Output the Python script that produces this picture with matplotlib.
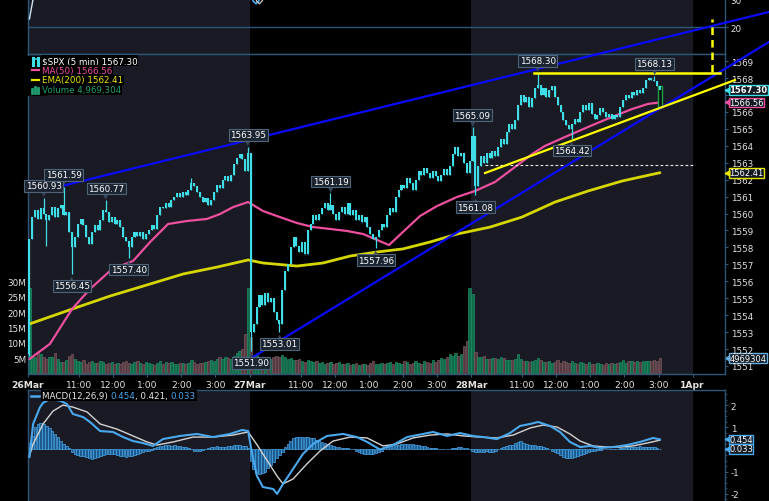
import matplotlib
matplotlib.use('Agg')
import matplotlib.pyplot as plt
import matplotlib.transforms as mtransforms
from matplotlib.lines import Line2D
import numpy as np

plt.rcParams['font.family'] = ['DejaVu Sans']

# ------------------------------------------------------------------ data
prev_close = 1551.69

close_26mar = [1558.5, 1559.8, 1560.2, 1559.7, 1560.3, 1560.0, 1559.6, 1559.9, 1560.4, 1559.8,
               1560.3, 1560.5, 1559.9, 1560.1, 1558.9, 1558.0, 1558.6, 1559.4, 1559.7, 1559.3,
               1558.6, 1558.2, 1558.9, 1559.3, 1559.0, 1559.6, 1560.2, 1560.1, 1559.5, 1559.8,
               1559.4, 1559.6, 1559.2, 1558.6, 1558.4, 1558.0, 1558.6, 1558.9, 1558.7, 1558.9,
               1558.5, 1558.8, 1559.0, 1559.3, 1559.1, 1559.9, 1560.4, 1560.3, 1560.6, 1560.4,
               1560.8, 1561.0, 1561.2, 1561.0, 1561.3, 1561.1, 1561.4, 1561.8, 1561.6, 1561.3,
               1561.0, 1560.7, 1560.9, 1560.5, 1560.8, 1561.3, 1561.7, 1561.5, 1562.0, 1562.2,
               1561.9, 1562.3, 1562.9, 1563.3, 1563.5, 1563.2, 1562.5, 1563.6]
close_27mar = [1553.0, 1553.5, 1554.5, 1555.2, 1554.6, 1555.3, 1554.8, 1555.0, 1554.2, 1553.7,
               1553.5, 1555.5, 1556.6, 1557.0, 1558.0, 1558.6, 1558.1, 1557.7, 1558.3, 1557.6,
               1559.0, 1559.4, 1559.9, 1559.6, 1560.0, 1560.3, 1560.6, 1560.2, 1560.5, 1560.0,
               1559.6, 1560.1, 1560.4, 1560.0, 1560.6, 1559.9, 1560.2, 1559.6, 1559.9, 1559.5,
               1559.8, 1559.2, 1558.8, 1558.5, 1558.6, 1559.0, 1559.4, 1559.2, 1559.9, 1560.3,
               1560.1, 1561.0, 1561.4, 1561.7, 1561.5, 1562.1, 1561.8, 1561.4, 1562.0, 1562.5,
               1562.3, 1562.7, 1562.4, 1562.1, 1562.5, 1562.2, 1561.9, 1562.3, 1562.6, 1562.3,
               1562.8, 1563.5, 1563.9, 1563.4, 1563.6, 1563.0, 1562.4, 1563.1]
close_28mar = [1564.6, 1561.6, 1562.8, 1563.4, 1563.0, 1563.6, 1563.3, 1563.7, 1563.4, 1563.9,
               1564.4, 1564.1, 1564.8, 1565.3, 1565.0, 1565.5, 1566.4, 1567.0, 1566.6, 1566.9,
               1566.3, 1566.8, 1567.4, 1567.6, 1567.0, 1567.4, 1566.9, 1567.3, 1567.5, 1566.9,
               1566.4, 1566.0, 1565.5, 1565.2, 1565.0, 1565.3, 1565.6, 1565.4, 1566.0, 1566.4,
               1566.1, 1566.5, 1565.9, 1565.6, 1565.8, 1566.2, 1566.0, 1565.7, 1565.9, 1565.6,
               1565.8, 1565.7, 1566.3, 1566.7, 1567.0, 1566.8, 1567.2, 1567.0, 1567.3, 1567.1,
               1567.4, 1567.9, 1568.0, 1567.9, 1567.8, 1567.5, 1567.3]

vol_26mar = [28.0, 5.8, 5.2, 6.6, 6.4, 5.5, 4.7, 5.2, 5.5, 6.7,
             4.7, 3.6, 3.8, 4.2, 5.8, 6.2, 4.8, 4.0, 3.6, 4.4,
             3.2, 3.8, 4.1, 3.5, 3.3, 3.9, 3.6, 3.0, 3.4, 3.8,
             3.1, 3.5, 2.9, 3.6, 3.9, 3.4, 3.2, 3.7, 4.0, 3.3,
             3.0, 3.6, 3.4, 3.2, 2.8, 3.5, 3.9, 3.1, 3.6, 3.3,
             3.8, 3.2, 3.0, 3.5, 3.3, 2.9, 3.4, 4.2, 3.6, 3.1,
             3.5, 3.3, 3.8, 4.0, 4.5, 3.9, 4.8, 5.2, 4.6, 5.5,
             5.0, 4.7, 5.8, 6.5, 7.2, 8.0, 13.0, 28.0]
vol_27mar = [12.0, 5.5, 6.0, 5.2, 5.4, 4.8, 5.0, 4.6, 5.3, 5.6,
             5.2, 6.0, 5.4, 4.8, 5.0, 4.5, 4.2, 4.6, 4.0, 3.8,
             4.4, 4.0, 3.6, 4.0, 3.4, 3.8, 3.2, 3.5, 3.8, 3.0,
             3.3, 3.6, 2.9, 3.2, 3.5, 2.8, 3.0, 3.3, 2.7, 3.0,
             3.2, 2.6, 3.4, 4.0, 3.2, 3.0, 3.4, 2.9, 3.3, 3.6,
             3.0, 3.8, 3.5, 3.2, 4.0, 3.6, 3.0, 3.4, 3.9, 3.5,
             3.2, 4.1, 3.7, 3.3, 4.3, 3.8, 4.2, 5.0, 4.6, 5.5,
             6.3, 5.8, 6.5, 5.6, 6.2, 9.0, 10.6, 28.0]
vol_28mar = [26.0, 6.9, 5.4, 5.5, 5.6, 4.8, 4.6, 5.0, 5.1, 4.7,
             5.4, 4.9, 4.4, 4.5, 4.2, 4.6, 6.3, 4.8, 4.1, 4.0,
             3.8, 3.9, 4.4, 5.0, 4.2, 3.8, 3.6, 4.0, 3.4, 3.8,
             4.3, 3.5, 3.9, 3.6, 3.3, 4.0, 3.4, 3.2, 3.7, 3.5,
             3.0, 3.6, 3.2, 2.9, 3.4, 3.1, 2.8, 3.3, 3.0, 3.5,
             3.1, 3.3, 3.6, 4.3, 3.5, 3.9, 4.0, 3.8, 4.1, 3.7,
             4.0, 4.1, 3.9, 4.0, 4.2, 4.1, 4.97]

hist_26mar = [0.3, 0.6, 1.0, 1.15, 1.2, 1.15, 1.05, 0.95, 0.85, 0.7,
              0.55, 0.4, 0.25, 0.15, 0.05, -0.1, -0.2, -0.25, -0.3, -0.3,
              -0.35, -0.4, -0.43, -0.4, -0.35, -0.3, -0.25, -0.2, -0.2, -0.2,
              -0.2, -0.25, -0.3, -0.3, -0.32, -0.3, -0.28, -0.25, -0.2, -0.15,
              -0.1, -0.07, -0.05, -0.02, 0.05, 0.1, 0.15, 0.18, 0.2, 0.2,
              0.18, 0.2, 0.15, 0.15, 0.12, 0.1, 0.05, 0.0, -0.05, -0.07,
              -0.05, -0.03, 0.0, 0.05, 0.1, 0.12, 0.15, 0.12, 0.1, 0.12,
              0.15, 0.18, 0.2, 0.22, 0.2, 0.18, 0.15, 0.08]
hist_27mar = [-0.5, -0.9, -1.05, -1.1, -1.05, -1.0, -0.85, -0.7, -0.55, -0.4,
              -0.25, -0.1, 0.1, 0.25, 0.4, 0.5, 0.55, 0.55, 0.55, 0.55,
              0.55, 0.5, 0.5, 0.45, 0.4, 0.35, 0.3, 0.25, 0.2, 0.15,
              0.12, 0.1, 0.08, 0.05, 0.05, 0.02, 0.0, -0.05, -0.1, -0.15,
              -0.2, -0.2, -0.22, -0.2, -0.15, -0.1, -0.05, 0.0, 0.1, 0.15,
              0.2, 0.2, 0.22, 0.25, 0.25, 0.25, 0.25, 0.25, 0.22, 0.2,
              0.18, 0.15, 0.1, 0.08, 0.05, 0.05, 0.03, 0.02, 0.02, 0.0,
              0.02, 0.05, 0.08, 0.1, 0.1, 0.08, 0.05, 0.0]
hist_28mar = [-0.05, -0.1, -0.12, -0.1, -0.1, -0.08, -0.1, -0.1, -0.05, 0.0,
              0.05, 0.12, 0.18, 0.2, 0.22, 0.28, 0.35, 0.38, 0.3, 0.25,
              0.22, 0.22, 0.2, 0.18, 0.15, 0.1, 0.05, 0.0, -0.05, -0.1,
              -0.18, -0.25, -0.32, -0.38, -0.4, -0.4, -0.35, -0.3, -0.25, -0.2,
              -0.15, -0.1, -0.07, -0.05, -0.03, -0.02, 0.0, 0.0, 0.0, 0.02,
              0.02, 0.03, 0.05, 0.08, 0.1, 0.1, 0.12, 0.12, 0.12, 0.15,
              0.12, 0.12, 0.12, 0.1, 0.1, 0.08, 0.033]

# labelled highs / lows
label_bar = [5, 12, 27, 15, 35, 77, 78, 88, 106, 122, 156, 157, 179, 191, 220]
label_val = [1560.93, 1561.59, 1560.77, 1556.45, 1557.40, 1563.95, 1551.90, 1553.01,
             1561.19, 1557.96, 1565.09, 1561.08, 1568.30, 1564.42, 1568.13]
label_kind = ['H', 'H', 'H', 'L', 'L', 'H', 'L', 'L', 'H', 'L', 'H', 'L', 'H', 'L', 'H']
# other visible wicks
wick_high_bar = [57]
wick_high_val = [1562.1]
wick_low_bar = [0, 6, 222]
wick_low_val = [1551.6, 1558.1, 1566.3]

ma50_bar = [0, 7.2, 15, 21.3, 29.1, 36.5, 42.5, 48.8, 55.5, 62.5, 67.1, 71.7, 77, 82.2, 88.2,
            94.2, 99.9, 105.8, 111.8, 117.5, 122.4, 126.6, 131.5, 137.5, 143.5, 150.6, 156.9,
            163.9, 171, 177, 181.5, 188.6, 196.7, 205.1, 212.2, 217.8, 222]
ma50_val = [1551.41, 1552.30, 1554.36, 1555.54, 1556.72, 1557.20, 1558.32, 1559.38, 1559.56,
            1559.68, 1559.97, 1560.38, 1560.68, 1560.15, 1559.79, 1559.44, 1559.20, 1559.09,
            1558.97, 1558.79, 1558.44, 1558.14, 1558.91, 1559.85, 1560.44, 1560.98, 1561.33,
            1561.86, 1562.75, 1563.51, 1563.99, 1564.52, 1565.11, 1565.70, 1566.17, 1566.47,
            1566.56]
ema200_bar = [0, 15, 28.4, 42.5, 54.1, 66.1, 77, 82.2, 94.2, 103.4, 112.9, 122.4, 131.5,
              141.1, 150.6, 162.2, 173.4, 185.1, 196.7, 208.7, 222]
ema200_val = [1553.48, 1554.36, 1555.13, 1555.84, 1556.43, 1556.84, 1557.26, 1557.08, 1556.90,
              1557.08, 1557.49, 1557.73, 1557.91, 1558.32, 1558.79, 1559.20, 1559.79, 1560.68,
              1561.33, 1561.92, 1562.41]

macd_bar = [0, 1.3, 3.7, 4.8, 7.2, 10.8, 13.2, 15.3, 18.9, 21.3, 24.9, 29.4, 33, 36.5, 40,
            43.5, 47, 53, 59, 64.6, 70.6, 74.9, 77, 78.4, 80.1, 82.2, 85.8, 87.2, 89.3, 92.8,
            96.3, 99.9, 104.8, 110.4, 115.3, 118.9, 123.4, 128, 133, 138.6, 142.1, 147, 151.6,
            156.2, 159.7, 164.6, 169.2, 172.7, 176.3, 179.1, 183.3, 186.8, 190.3, 193.9, 197.4,
            201, 205.5, 210.4, 215, 219.6, 222]
macd_val = [-0.34, 1.15, 1.9, 2.1, 2.27, 2.2, 2.05, 1.6, 1.46, 1.24, 0.83, 0.79, 0.56, 0.38,
            0.29, 0.16, 0.47, 0.61, 0.7, 0.56, 0.7, 0.88, 0.83, -0.2, -1.19, -1.69, -1.78, -2.0,
            -1.55, -0.88, -0.2, 0.25, 0.61, 0.7, 0.56, 0.34, 0.0, 0.2, 0.56, 0.7, 0.79, 0.61,
            0.74, 0.61, 0.56, 0.47, 0.74, 1.06, 1.15, 1.24, 1.06, 0.79, 0.34, 0.11, 0.16, 0.07,
            0.11, 0.2, 0.34, 0.52, 0.454]
signal_bar = [0, 1.3, 4.8, 8.3, 11.8, 15.3, 20.3, 24.9, 30.8, 36.5, 41.4, 44.9, 50.6, 57.6,
              64.6, 71.7, 77, 80.1, 83.7, 87.2, 89.3, 92.8, 97.7, 102.3, 106.9, 112.9, 118.9,
              124.5, 129.4, 135.1, 141.1, 147, 152.7, 158.7, 164.6, 170.3, 176.3, 180.8, 185.8,
              190.3, 193.9, 198.4, 203.4, 208, 212.5, 217.5, 222]
signal_val = [-0.3, 0.25, 1.15, 1.73, 2.0, 1.91, 1.69, 1.15, 0.92, 0.61, 0.34, 0.2, 0.34, 0.56,
              0.56, 0.65, 0.79, 0.22, -0.5, -1.2, -1.55, -1.33, -0.65, -0.07, 0.38, 0.56, 0.52,
              0.16, 0.25, 0.52, 0.65, 0.7, 0.61, 0.56, 0.52, 0.65, 0.97, 1.1, 1.01, 0.7, 0.38,
              0.16, 0.11, 0.11, 0.16, 0.29, 0.421]

# upper (cropped) indicator panel fragments
top_a_bar = [0, 1.3, 2.5]
top_a_val = [22.9, 30.0, 36.0]
top_b_bar = [77.5, 78.8, 79.8, 80.8, 82.0]
top_b_val = [34.0, 29.2, 28.3, 29.4, 33.0]

# drawn trend lines (bar, price)
upper_tl_bar, upper_tl_val = [4.8, 260.4], [1561.35, 1571.90]
lower_tl_bar, lower_tl_val = [78.7, 260.4], [1551.53, 1570.13]
support_tl_bar, support_tl_val = [160.4, 248.4], [1562.39, 1567.88]
resist_bar, resist_val = [177.7, 243.2], [1568.30, 1568.30]
target_bar, target_val = [240.2, 240.2], [1568.35, 1571.48]
ref_bar, ref_val = [160.4, 233.7], [1562.85, 1562.85]

day_labels = ['26Mar', '27Mar', '28Mar', '1Apr']
hour_labels = ['11:00', '12:00', '1:00', '2:00', '3:00']
hour_minutes = [90, 150, 210, 270, 330]
bars_per_day = 78
price_ticks = list(range(1551, 1570))
hidden_price_labels = [1567]          # fully covered by the last-price tag
vol_ticks = [5, 10, 15, 20, 25, 30]
macd_ticks = [-2, -1, 1, 2]
top_ticks = [20, 30]

last_close, last_ma, last_ema, last_vol = 1567.30, 1566.56, 1562.41, 4969304
last_macd, last_signal, last_hist = 0.454, 0.421, 0.033

# ------------------------------------------------------------------ derived
closes = np.array(close_26mar + close_27mar + close_28mar)
vols = np.array(vol_26mar + vol_27mar + vol_28mar)
hist = np.array(hist_26mar + hist_27mar + hist_28mar)
n = len(closes)
x = np.arange(n)
opens = np.concatenate([[prev_close], closes[:-1]])
highs = np.maximum(opens, closes)
lows = np.minimum(opens, closes)
for b, v, k in zip(label_bar, label_val, label_kind):
    if k == 'H':
        highs[b] = max(highs[b], v)
    else:
        lows[b] = min(lows[b], v)
for b, v in zip(wick_high_bar, wick_high_val):
    highs[b] = max(highs[b], v)
for b, v in zip(wick_low_bar, wick_low_val):
    lows[b] = min(lows[b], v)
up = closes >= opens

# ------------------------------------------------------------------ style
W, H = 769, 502
BG = 'black'
DARK = '#191a23'
SPINE = '#2c5779'
TXT = '#e2e2e2'
CYAN = '#3fdde6'
PINK = '#ee4f9f'
YEL = '#e6e600'
BLUE_TL = '#0a0aff'
MACD_C = '#4aa8ec'
FS = 6.3

fig = plt.figure(figsize=(W / 100, H / 100), dpi=100, facecolor=BG)
PX = mtransforms.Affine2D().scale(1 / W, -1 / H).translate(0, 1) + fig.transFigure


def rect(x0, y0, x1, y1):
    return [x0 / W, 1 - y1 / H, (x1 - x0) / W, (y1 - y0) / H]


L, R = 28, 725
XLIM = (-0.5, 244.9)
SHADE = [(-0.5, 77.5), (155.5, 233.5)]


def base(ax, shade=True):
    ax.set_facecolor(BG)
    ax.set_xlim(*XLIM)
    if shade:
        for a, b in SHADE:
            ax.axvspan(a, b, color=DARK, lw=0, zorder=0)
    for s in ax.spines.values():
        s.set_color(SPINE)
        s.set_linewidth(1.0)


# ---------------- top (cropped) indicator panel
ax_top = fig.add_axes(rect(L, 0, R, 55))
base(ax_top)
ax_top.set_ylim(10.36, 30)
ax_top.spines['top'].set_visible(False)
ax_top.axhline(20, color=SPINE, lw=1.0, zorder=1)
ax_top.plot(top_a_bar, top_a_val, color='#cfe6f7', lw=1.0, zorder=3)
ax_top.plot(top_b_bar, top_b_val, color=MACD_C, lw=1.2, zorder=3)
ax_top.plot([b + 1.2 for b in top_b_bar], top_b_val, color='#d0d0d0', lw=0.9, zorder=3)
ax_top.set_xticks([])
ax_top.yaxis.tick_right()
ax_top.set_yticks(top_ticks)
ax_top.set_yticklabels([str(t) for t in top_ticks])
ax_top.tick_params(axis='y', length=2.5, width=0.8, color=SPINE, labelcolor=TXT,
                   labelsize=FS, pad=1.5)

# ---------------- volume (background of price panel)
ax_vol = fig.add_axes(rect(L, 55, R, 375))
base(ax_vol)
ax_vol.set_ylim(-0.23, 104.6)
for s in ax_vol.spines.values():
    s.set_visible(False)
vface = np.where(up, '#116a4a', '#553b41')
vedge = np.where(up, '#1f8e64', '#7a575e')
ax_vol.bar(x, vols, width=0.86, color=vface, edgecolor=vedge, linewidth=0.5, zorder=2)
ax_vol.set_xticks([])
ax_vol.set_yticks(vol_ticks)
ax_vol.set_yticklabels([f'{v}M' for v in vol_ticks])
ax_vol.tick_params(axis='y', length=0, labelcolor=TXT, labelsize=FS, pad=1.5)

# ---------------- price panel
ax_p = fig.add_axes(rect(L, 55, R, 375))
ax_p.patch.set_visible(False)
ax_p.set_xlim(*XLIM)
ax_p.set_ylim(1550.527, 1569.417)
for s in ax_p.spines.values():
    s.set_color(SPINE)
    s.set_linewidth(1.0)

ax_p.plot(ema200_bar, ema200_val, color='#d6d600', lw=2.0, zorder=3, solid_capstyle='round')
ax_p.plot(ma50_bar, ma50_val, color=PINK, lw=1.6, zorder=4, solid_capstyle='round')

# last bar marker box (green outline)
ax_p.bar(x[-1], opens[-1] - lows[-1], bottom=lows[-1], width=1.3, facecolor='#0b0f0c',
         edgecolor='#1fa24a', linewidth=1.0, zorder=5)
ax_p.vlines(x[:-1], lows[:-1], highs[:-1], colors=CYAN, linewidth=0.9, zorder=5)
body_h = np.maximum(np.abs(closes - opens), 0.05)
ax_p.bar(x, body_h, bottom=np.minimum(opens, closes), width=0.72, color=CYAN,
         linewidth=0, zorder=6)

# trend lines
ax_p.plot(upper_tl_bar, upper_tl_val, color=BLUE_TL, lw=1.6, zorder=8, clip_on=False)
ax_p.plot(lower_tl_bar, lower_tl_val, color=BLUE_TL, lw=1.6, zorder=8, clip_on=False)
ax_p.plot(support_tl_bar, support_tl_val, color='#ffff00', lw=1.6, zorder=8, clip_on=False)
ax_p.plot(resist_bar, resist_val, color='#ffff00', lw=1.8, zorder=8, clip_on=False)
ax_p.plot(target_bar, target_val, color='#ffff00', lw=1.8, zorder=8, clip_on=False,
          dashes=(3, 2))
ax_p.plot(ref_bar, ref_val, color='#e8e8e8', lw=0.8, zorder=7, dashes=(2.5, 2))

# labelled highs / lows
for b, v, k in zip(label_bar, label_val, label_kind):
    sgn = 1 if k == 'H' else -1
    ax_p.annotate('▼' if k == 'H' else '▲', xy=(b, v), xytext=(0, sgn * 3.2),
                  textcoords='offset points', ha='center', va='center', fontsize=5,
                  color='#34475a', zorder=11, annotation_clip=False)
    ax_p.annotate(f'{v:.2f}', xy=(b, v), xytext=(0, sgn * 8.6), textcoords='offset points',
                  ha='center', va='center', fontsize=FS, color='white', zorder=12,
                  bbox=dict(boxstyle='square,pad=0.16', fc='#1b2531', ec='#4f6478', lw=0.8),
                  annotation_clip=False)

# axis ticks
xt, xl, bold = [], [], []
for d, lab in enumerate(day_labels):
    b0 = bars_per_day * d - 0.5
    xt.append(b0); xl.append(lab); bold.append(True)
    if d < 3:
        for hl, m in zip(hour_labels, hour_minutes):
            xt.append(b0 + m / 5); xl.append(hl); bold.append(False)
ax_p.set_xticks(xt)
ax_p.set_xticklabels(xl)
for t, bf in zip(ax_p.get_xticklabels(), bold):
    if bf:
        t.set_fontweight('bold')
ax_p.tick_params(axis='x', length=2.5, width=0.8, color=SPINE, labelcolor=TXT,
                 labelsize=FS + 0.3, pad=1.5)
ax_p.yaxis.tick_right()
ax_p.set_yticks(price_ticks)
ax_p.set_yticklabels(['' if t in hidden_price_labels else str(t) for t in price_ticks])
ax_p.tick_params(axis='y', length=2.5, width=0.8, color=SPINE, labelcolor=TXT,
                 labelsize=FS, pad=1.5)


def value_tag(ax, yval, text, ec, bold=False, fc='#121a24'):
    tr = mtransforms.blended_transform_factory(ax.transAxes, ax.transData)
    ax.annotate(text, xy=(1, yval), xycoords=tr, xytext=(3.0, 0), textcoords='offset points',
                ha='left', va='center', fontsize=FS - 0.3, color='white',
                fontweight='bold' if bold else 'normal',
                bbox=dict(boxstyle='square,pad=0.04', fc=fc, ec=ec, lw=1.0),
                annotation_clip=False, zorder=30)
    ax.plot([1.003], [yval], marker='<', ms=3.4, color=ec, mec=ec, transform=tr,
            clip_on=False, zorder=31)


value_tag(ax_p, last_close, f'{last_close:.2f}', CYAN, bold=True)
value_tag(ax_p, last_ma, f'{last_ma:.2f}', PINK)
value_tag(ax_p, last_ema, f'{last_ema:.2f}', YEL)
value_tag(ax_vol, last_vol / 1e6, f'{last_vol}', '#6aaede')

# ---------------- MACD panel
ax_m = fig.add_axes(rect(L, 391, R, 502))
base(ax_m)
ax_m.set_ylim(-2.32, 2.68)
ax_m.spines['bottom'].set_visible(False)
ax_m.bar(x, hist, width=0.92, color='#1d5b8f', edgecolor='#4aa6ea', linewidth=0.5, zorder=2)
ax_m.plot(signal_bar, signal_val, color='#d4d4d4', lw=1.0, zorder=3)
ax_m.plot(macd_bar, macd_val, color=MACD_C, lw=1.5, zorder=4)
ax_m.set_xticks([])
ax_m.yaxis.tick_right()
ax_m.set_yticks(macd_ticks)
ax_m.set_yticklabels([str(t) for t in macd_ticks])
ax_m.set_yticks(np.arange(-2.25, 2.6, 0.25), minor=True)
ax_m.tick_params(axis='y', which='major', length=2.5, width=0.8, color=SPINE,
                 labelcolor=TXT, labelsize=FS, pad=1.5)
ax_m.tick_params(axis='y', which='minor', length=1.5, width=0.6, color=SPINE)
value_tag(ax_m, last_macd, f'{last_macd:.3f}', MACD_C)
value_tag(ax_m, last_hist, f'{last_hist:.3f}', MACD_C)

# ---------------- legends
leg_bbox = dict(boxstyle='square,pad=0.1', fc='black', ec='none')
legend_lines = [(f'$SPX (5 min) {last_close:.2f}', 'white'),
                (f'MA(50) {last_ma:.2f}', PINK),
                (f'EMA(200) {last_ema:.2f}', YEL),
                (f'Volume {last_vol:,}', '#1fa070')]
for i, (txt, col) in enumerate(legend_lines):
    yy = 61.8 + 9.6 * i
    fig.text(41.5, yy, txt, transform=PX, ha='left', va='center', fontsize=FS, color=col,
             bbox=leg_bbox, zorder=40)
    fig.add_artist(Line2D([30, 41], [yy, yy], transform=PX, color='black', lw=8, zorder=39))
# icons
fig.add_artist(Line2D([32.5, 32.5], [58.5, 65.5], transform=PX, color=CYAN, lw=2.2, zorder=41))
fig.add_artist(Line2D([37.5, 37.5], [58.5, 65.5], transform=PX, color=CYAN, lw=2.2, zorder=41))
fig.add_artist(Line2D([34, 36], [60, 60], transform=PX, color=CYAN, lw=1.2, zorder=41))
fig.add_artist(Line2D([31.5, 38.5], [71.4, 71.4], transform=PX, color=PINK, lw=1.6, zorder=41))
fig.add_artist(Line2D([31.5, 38.5], [81.0, 81.0], transform=PX, color=YEL, lw=1.6, zorder=41))
for xx, h in zip([32, 35, 38], [4, 6, 5]):
    fig.add_artist(Line2D([xx, xx], [94, 94 - h], transform=PX, color='#1fa070', lw=2,
                          zorder=41))

# MACD legend with multi-coloured parts
fig.add_artist(Line2D([30.5, 38.5], [396.8, 396.8], transform=PX, color=MACD_C, lw=1.8,
                      zorder=41))
t1 = fig.text(41.5, 396.8, 'MACD(12,26,9) ', transform=PX, ha='left', va='center',
              fontsize=FS, color='#e6e6e6', bbox=leg_bbox, zorder=40)
parts = [(f'{last_macd:.3f}', MACD_C), (f', {last_signal:.3f}, ', '#e6e6e6'),
         (f'{last_hist:.3f}', MACD_C)]
prev = t1
for txt, col in parts:
    a = ax_m.annotate(txt, xy=(1, 0), xycoords=prev, ha='left', va='bottom', fontsize=FS,
                      color=col, bbox=leg_bbox, zorder=40, annotation_clip=False)
    prev = a

fig.savefig('out.png', dpi=100, facecolor=BG)
